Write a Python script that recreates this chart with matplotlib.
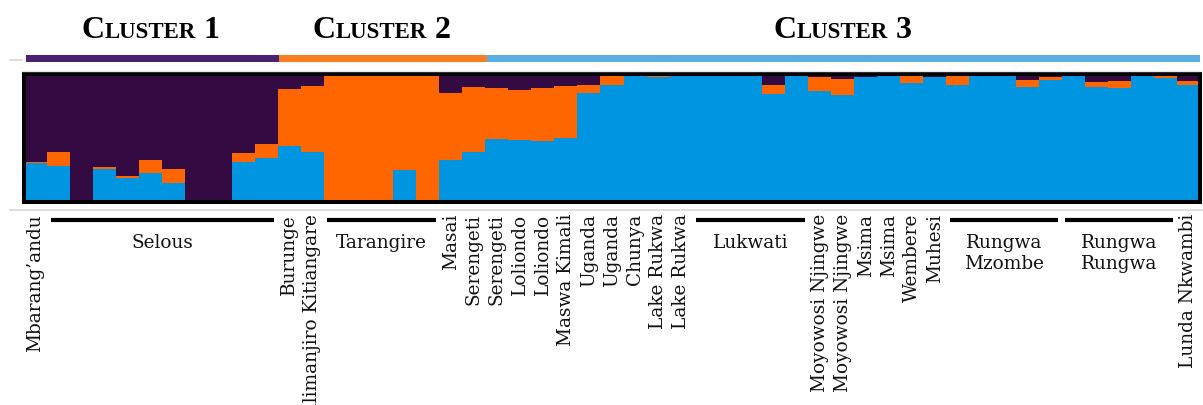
import matplotlib
matplotlib.use('Agg')
import matplotlib.pyplot as plt
import numpy as np
from matplotlib.transforms import blended_transform_factory
from matplotlib.offsetbox import TextArea, HPacker, AnnotationBbox
from matplotlib.lines import Line2D

# ---------------- data ----------------
blue = [0.305, 0.278, 0.0, 0.252, 0.186, 0.226, 0.146, 0.0, 0.0, 0.313,
        0.340, 0.435, 0.390, 0.010, 0.005, 0.0, 0.250, 0.0, 0.329, 0.390,
        0.491, 0.480, 0.475, 0.501, 0.851, 0.915, 0.985, 0.980, 0.990, 0.990,
        0.985, 0.990, 0.846, 0.990, 0.868, 0.833, 0.975, 0.985, 0.930, 0.980,
        0.915, 0.995, 0.995, 0.900, 0.953, 0.985, 0.900, 0.892, 0.990, 0.970,
        0.910]
orange = [0.008, 0.111, 0.0, 0.018, 0.016, 0.103, 0.111, 0.0, 0.0, 0.066,
          0.111, 0.451, 0.517, 0.990, 0.995, 0.992, 0.742, 1.0, 0.525, 0.510,
          0.403, 0.398, 0.414, 0.403, 0.064, 0.070, 0.0, 0.010, 0.005, 0.005,
          0.0, 0.005, 0.064, 0.005, 0.106, 0.125, 0.005, 0.010, 0.070, 0.0,
          0.077, 0.0, 0.0, 0.053, 0.021, 0.0, 0.037, 0.050, 0.010, 0.024,
          0.035]
purple = [0.687, 0.611, 1.0, 0.730, 0.798, 0.671, 0.743, 1.0, 1.0, 0.621,
          0.549, 0.114, 0.093, 0.0, 0.0, 0.008, 0.008, 0.0, 0.146, 0.100,
          0.106, 0.122, 0.111, 0.096, 0.085, 0.015, 0.015, 0.010, 0.005, 0.005,
          0.015, 0.005, 0.090, 0.005, 0.026, 0.042, 0.020, 0.005, 0.0, 0.020,
          0.008, 0.005, 0.005, 0.047, 0.026, 0.015, 0.063, 0.058, 0.0, 0.006,
          0.055]

single_idx = [0, 11, 12, 18, 19, 20, 21, 22, 23, 24, 25, 26, 27, 28,
              34, 35, 36, 37, 38, 39, 50]
single_txt = ["Mbarang’andu", "Burunge", "Kilimanjiro Kitiangare", "Masai",
              "Serengeti", "Serengeti", "Loliondo", "Loliondo", "Maswa Kimali",
              "Uganda", "Uganda", "Chunya", "Lake Rukwa", "Lake Rukwa",
              "Moyowosi Njingwe", "Moyowosi Njingwe", "Msima", "Msima",
              "Wembere", "Muhesi", "Lunda Nkwambi"]

group_start = [1, 13, 29, 40, 45]
group_end = [10, 17, 33, 44, 49]
group_txt = ["Selous", "Tarangire", "Lukwati", "Rungwa\nMzombe", "Rungwa\nRungwa"]

cluster_names = ["1", "2", "3"]
cluster_sizes = [11, 9, 31]

# ---------------- style ----------------
C_BLUE = '#0095E0'
C_ORANGE = '#FF6600'
C_PURPLE = '#330A42'
CL_COLORS = ['#4B2172', '#FA7D22', '#5BADE6']
GRAY = '#D9D9D9'

W, H = 1203, 405
fig = plt.figure(figsize=(W / 100, H / 100), dpi=100)

def fx(px):
    return px / W

def fy(py):
    return 1 - py / H

# main structure axes
ax = fig.add_axes([fx(24), fy(201.5), fx(1200 - 24), (201.5 - 74) / H])
n = len(blue)
x = np.arange(n)
b = np.array(blue)
o = np.array(orange)
p = np.array(purple)
ax.bar(x, b, width=1.0, color=C_BLUE, linewidth=0)
ax.bar(x, o, width=1.0, bottom=b, color=C_ORANGE, linewidth=0)
ax.bar(x, p, width=1.0, bottom=b + o, color=C_PURPLE, linewidth=0)
ax.set_xlim(-0.5, n - 0.5)
ax.set_ylim(0, 1)
ax.set_xticks([])
ax.set_yticks([])
for s in ax.spines.values():
    s.set_color('black')
    s.set_linewidth(2.9)

# cluster bar
ax2 = fig.add_axes([fx(24), fy(62), fx(1200 - 24), 7.5 / H])
lefts = np.concatenate([[0], np.cumsum(cluster_sizes)[:-1]]) - 0.5
ax2.barh(0, cluster_sizes, left=lefts, height=1.0, color=CL_COLORS, linewidth=0)
ax2.set_xlim(-0.6, n - 0.5)
ax2.set_ylim(-0.5, 0.5)
ax2.axis('off')

# gray decorative axis lines
fig.add_artist(Line2D([fx(10), fx(22)], [fy(60), fy(60)], color=GRAY, lw=1.2))
fig.add_artist(Line2D([fx(22), fx(1200)], [fy(70.5), fy(70.5)], color='#E3E8EC', lw=1.0))
fig.add_artist(Line2D([fx(10), fx(1203)], [fy(210.5), fy(210.5)], color=GRAY, lw=1.2))

# cluster titles (small caps)
cum = np.cumsum(cluster_sizes)
starts = cum - np.array(cluster_sizes)
for name, s0, sz in zip(cluster_names, starts, cluster_sizes):
    center = s0 + sz / 2 - 0.5
    parts = [TextArea("C", textprops=dict(family='Liberation Serif', weight='bold', size=23)),
             TextArea("LUSTER", textprops=dict(family='Liberation Serif', weight='bold', size=16.5)),
             TextArea(" " + name, textprops=dict(family='Liberation Serif', weight='bold', size=23))]
    pack = HPacker(children=parts, align='baseline', pad=0, sep=0)
    ab = AnnotationBbox(pack, (center, fy(30.5)), xycoords=('data', 'figure fraction'),
                        box_alignment=(0.5, 0.5), frameon=False, pad=0,
                        annotation_clip=False)
    ax.add_artist(ab)

# labels
trans = blended_transform_factory(ax.transData, fig.transFigure)
LFONT = dict(family='DejaVu Serif', size=13.3, color='#111111')
for i, t in zip(single_idx, single_txt):
    ax.text(i, fy(214), t, rotation=90, ha='center', va='top',
            transform=trans, clip_on=False, **LFONT)

for s0, e0, t in zip(group_start, group_end, group_txt):
    ax.add_line(Line2D([s0 - 0.35, e0 + 0.35], [fy(220), fy(220)], color='black',
                       lw=3.0, transform=trans, clip_on=False, solid_capstyle='butt'))
    ax.text((s0 + e0) / 2, fy(234), t, ha='center', va='top', transform=trans,
            clip_on=False, linespacing=1.2, **LFONT)

fig.savefig('out.png', dpi=100)
